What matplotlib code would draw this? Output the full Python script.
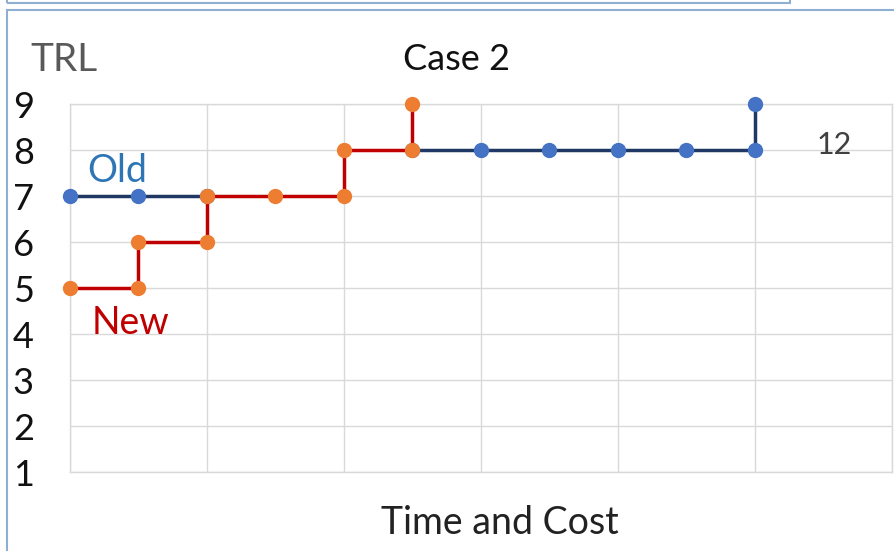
"""
TRL path chart, Case 2: old vs new route in time and cost.
"""

import numpy as np
import matplotlib.pyplot as plt
from matplotlib.patches import Rectangle

# ------------------------------------------------------------
# 1. Data
# ------------------------------------------------------------

old_x = [0, 1, 2, np.nan, 5, 6, 7, 8, 9, 10, 10]
old_trl = [7, 7, 7, np.nan, 8, 8, 8, 8, 8, 8, 9]

new_x = [0, 1, 1, 2, 2, 3, 4, 4, 5, 5]
new_trl = [5, 5, 6, 6, 7, 7, 7, 8, 8, 9]

trl_ticks = [1, 2, 3, 4, 5, 6, 7, 8, 9]
end_label = "12"

# ------------------------------------------------------------
# 2. Plot settings
# ------------------------------------------------------------

plt.rcParams["font.family"] = ["Lato", "DejaVu Sans"]

OLD_LINE = "#1F3864"
OLD_DOT = "#4472C4"
NEW_LINE = "#C00000"
NEW_DOT = "#ED7D31"
GRID = "#D9D9D9"
FRAME = "#8FAFD2"

fig = plt.figure(figsize=(8.95, 5.51), dpi=100)

# outer frames
fig.patches.append(Rectangle((7 / 895, 1 - 3 / 551), (790 - 7) / 895, 0.05,
                             transform=fig.transFigure, fill=False,
                             edgecolor=FRAME, linewidth=1.5, clip_on=False))
fig.patches.append(Rectangle((7 / 895, -0.05), 1.0, 1 - 10 / 551 + 0.05,
                             transform=fig.transFigure, fill=False,
                             edgecolor=FRAME, linewidth=1.5, clip_on=False))

ax = fig.add_axes([70 / 895, (551 - 472) / 551, (892 - 70) / 895, (472 - 104) / 551])

# ------------------------------------------------------------
# 3. Lines
# ------------------------------------------------------------

ax.plot(old_x, old_trl, color=OLD_LINE, linewidth=2.5, marker="o",
        markersize=10, markerfacecolor=OLD_DOT, markeredgecolor=OLD_DOT,
        zorder=3, clip_on=False)
ax.plot(new_x, new_trl, color=NEW_LINE, linewidth=2.5, marker="o",
        markersize=10, markerfacecolor=NEW_DOT, markeredgecolor=NEW_DOT,
        zorder=4, clip_on=False)

# ------------------------------------------------------------
# 4. Axes styling
# ------------------------------------------------------------

ax.set_xlim(0, 12)
ax.set_ylim(1, 9)
ax.set_xticks(np.arange(0, 13, 2))
ax.set_yticks(trl_ticks)
ax.set_xticklabels([])
ax.tick_params(axis="both", length=0)
ax.tick_params(axis="y", labelsize=26, pad=26, labelcolor="#111111")
ax.grid(True, color=GRID, linewidth=1.0)
for side in ["top", "bottom", "left", "right"]:
    ax.spines[side].set_color(GRID)
    ax.spines[side].set_linewidth(1.0)

# ------------------------------------------------------------
# 5. Text
# ------------------------------------------------------------

fig.text(30 / 895, 1 - 60 / 551, "TRL", fontsize=28, color="#595959",
         ha="left", va="center")
fig.text(457 / 895, 1 - 59 / 551, "Case 2", fontsize=26, color="#111111",
         ha="center", va="center")
fig.text(500 / 895, 1 - 523 / 551, "Time and Cost", fontsize=27,
         color="#222222", ha="center", va="center")

ax.text(0.25, 7.55, "Old", fontsize=27, color="#2E75B6", ha="left", va="center")
ax.text(0.32, 4.25, "New", fontsize=27, color="#C00000", ha="left", va="center")
ax.text(11.15, 8.1, end_label, fontsize=22, color="#404040", ha="center",
        va="center")

plt.savefig("out.png", dpi=100)
plt.close()
